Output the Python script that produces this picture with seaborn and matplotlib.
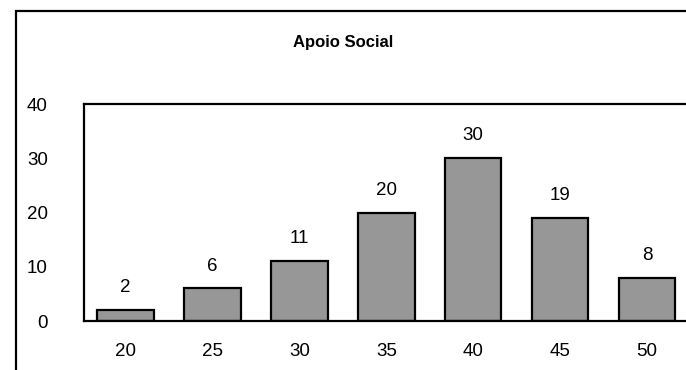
import numpy as np
import pandas as pd
import seaborn as sns
import matplotlib.pyplot as plt
from matplotlib.patches import Rectangle

categorias = ['20', '25', '30', '35', '40', '45', '50']
frequencias = [2, 6, 11, 20, 30, 19, 8]
titulo = 'Apoio Social'
yticks = [0, 10, 20, 30, 40]

sns.set_style('white')
plt.rcParams['font.family'] = ['Liberation Sans', 'DejaVu Sans']
plt.rcParams['text.color'] = 'black'
plt.rcParams['xtick.color'] = 'black'
plt.rcParams['ytick.color'] = 'black'

df = pd.DataFrame({'valor': categorias, 'n': frequencias})

fig = plt.figure(figsize=(6.86, 3.70), dpi=100)
ax = fig.add_axes([0.1224, 0.1324, 0.8776, 0.5865])

sns.barplot(data=df, x='valor', y='n', color='#979797', saturation=1,
            width=0.65, edgecolor='black', linewidth=1.6, ax=ax)

for c in ax.containers:
    ax.bar_label(c, padding=10, fontsize=13.5)

ax.set_ylim(0, 40)
ax.set_xlim(-0.48, 6.45)
ax.set_yticks(yticks)
ax.set_xlabel('')
ax.set_ylabel('')
ax.tick_params(axis='both', length=0, labelsize=13.5)
ax.tick_params(axis='y', pad=26)
ax.tick_params(axis='x', pad=16)
for s in ['top', 'left', 'bottom']:
    ax.spines[s].set_color('black')
    ax.spines[s].set_linewidth(1.6)
ax.spines['right'].set_visible(False)

# moldura exterior
fig.patches.append(Rectangle((16 / 686, -0.2), 1.2, 0.2 + 1 - 11 / 370,
                             transform=fig.transFigure, fill=False,
                             edgecolor='black', linewidth=1.6))

fig.text(0.5, 1 - 43 / 370, titulo, ha='center', va='center',
         fontsize=12, fontweight='bold')

plt.savefig('out.png', dpi=100)
